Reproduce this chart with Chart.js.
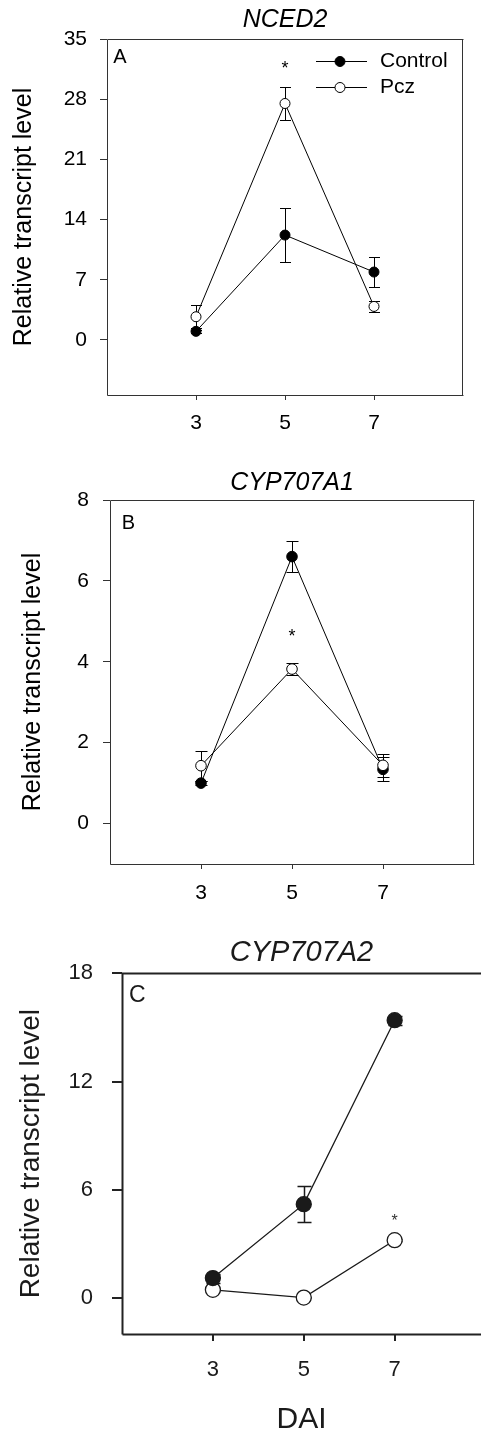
<!DOCTYPE html>
<html>
<head>
<meta charset="utf-8">
<script src="https://cdn.jsdelivr.net/npm/chart.js@4/dist/chart.umd.min.js"></script>
<style>
  html, body { margin: 0; padding: 0; background: #fff; }
  body { width: 481px; height: 1438px; overflow: hidden; position: relative; }
  canvas { position: absolute; left: 0; }
</style>
</head>
<body>
<canvas id="cA" width="481" height="460" style="top:0px"></canvas>
<canvas id="cB" width="481" height="460" style="top:460px"></canvas>
<canvas id="cC" width="481" height="518" style="top:920px"></canvas>
<script>
// ---------- data ----------
const days = [3, 5, 7];
const xTickValues = [3, 5, 7];
const seriesNames = ['Control', 'Pcz'];
const yAxisTitle = 'Relative transcript level';
const xAxisTitle = 'DAI';

// Panel A : NCED2
const titleA = 'NCED2';
const letterA = 'A';
const controlA = [1.0, 12.2, 7.9];
const controlErrA = [0.2, 3.1, 1.7];
const pczA = [2.7, 27.5, 3.9];
const pczErrA = [1.35, 1.9, 0.65];
const yTicksA = [0, 7, 14, 21, 28, 35];
const sigA = [5, 32.1];

// Panel B : CYP707A1
const titleB = 'CYP707A1';
const letterB = 'B';
const controlB = [1.0, 6.6, 1.34];
const controlErrB = [0.05, 0.38, 0.3];
const pczB = [1.43, 3.82, 1.44];
const pczErrB = [0.37, 0.15, 0.28];
const yTicksB = [0, 2, 4, 6, 8];
const sigB = [5, 4.74];

// Panel C : CYP707A2
const titleC = 'CYP707A2';
const letterC = 'C';
const controlC = [1.1, 5.2, 15.4];
const controlErrC = [0.25, 1.0, 0.25];
const pczC = [0.45, 0.02, 3.2];
const pczErrC = [0.05, 0.05, 0.05];
const yTicksC = [0, 6, 12, 18];
const sigC = [7, 4.5];

// ---------- rendering ----------
const FONT = "'Liberation Sans', Arial, Helvetica, sans-serif";
Chart.defaults.font.family = FONT;
Chart.defaults.color = '#000';

const panelPlugin = {
  id: 'panelPlugin',
  beforeDatasetsDraw(chart, args, o) {
    const ctx = chart.ctx;
    const ca = chart.chartArea;
    const {x, y} = chart.scales;
    ctx.save();
    // frame
    ctx.strokeStyle = o.frameColor;
    ctx.lineWidth = o.frameWidth;
    const L = Math.round(ca.left) + 0.5, R = Math.round(ca.right) - 0.5;
    const T = Math.round(ca.top) + 0.5, B = Math.round(ca.bottom) + 0.5;
    ctx.beginPath();
    ctx.moveTo(L, B); ctx.lineTo(L, T); ctx.lineTo(R + 1, T);
    if (o.rightBorder) { ctx.moveTo(R, T); ctx.lineTo(R, B); }
    ctx.moveTo(L, B); ctx.lineTo(R + 1, B);
    ctx.stroke();
    // error bars
    ctx.strokeStyle = o.lineColor;
    ctx.lineWidth = o.errWidth;
    chart.data.datasets.forEach(ds => {
      ds.data.forEach((p, i) => {
        const e = ds.errors[i];
        const px = Math.round(x.getPixelForValue(p.x)) + 0.5;
        const t = Math.round(y.getPixelForValue(p.y + e)) + 0.5;
        const b = Math.round(y.getPixelForValue(p.y - e)) + 0.5;
        ctx.beginPath();
        ctx.moveTo(px, t); ctx.lineTo(px, b);
        ctx.moveTo(px - o.cap, t); ctx.lineTo(px + o.cap, t);
        ctx.moveTo(px - o.cap, b); ctx.lineTo(px + o.cap, b);
        ctx.stroke();
      });
    });
    ctx.restore();
  },
  afterDatasetsDraw(chart, args, o) {
    const ctx = chart.ctx;
    const ca = chart.chartArea;
    const {x, y} = chart.scales;
    ctx.save();
    // panel letter
    ctx.fillStyle = o.textColor;
    ctx.font = o.letterSize + 'px ' + FONT;
    ctx.textAlign = 'left';
    ctx.textBaseline = 'alphabetic';
    ctx.fillText(o.letter, ca.left + o.letterDx, ca.top + o.letterDy);
    // significance star
    ctx.font = o.starSize + 'px ' + FONT;
    ctx.textAlign = 'center';
    ctx.fillStyle = o.starColor;
    ctx.fillText('*', x.getPixelForValue(o.sig[0]), y.getPixelForValue(o.sig[1]) + 0.57 * o.starSize);
    // legend
    if (o.legend) {
      chart.data.datasets.forEach((ds, i) => {
        const ly = Math.round(ca.top + o.legendY[i]) + 0.5;
        const x1 = ca.right - 147, x2 = ca.right - 96, xm = ca.right - 123;
        ctx.strokeStyle = ds.borderColor;
        ctx.lineWidth = ds.borderWidth;
        ctx.beginPath(); ctx.moveTo(x1, ly); ctx.lineTo(x2, ly); ctx.stroke();
        ctx.beginPath(); ctx.arc(xm, ly, ds.pointRadius, 0, Math.PI * 2);
        ctx.fillStyle = ds.pointBackgroundColor; ctx.fill();
        ctx.strokeStyle = ds.pointBorderColor; ctx.lineWidth = ds.pointBorderWidth; ctx.stroke();
        ctx.fillStyle = o.textColor;
        ctx.font = o.legendSize + 'px ' + FONT;
        ctx.textAlign = 'left';
        ctx.textBaseline = 'middle';
        ctx.fillText(ds.label, ca.right - 83, ly);
      });
    }
    ctx.restore();
  }
};

function toPoints(vals) { return days.map((d, i) => ({x: d, y: vals[i]})); }

function makePanel(id, c) {
  const mkDs = (label, vals, errs, fill, order) => ({
    label, data: toPoints(vals), errors: errs, order,
    borderColor: c.lineColor, borderWidth: c.lineWidth, tension: 0, fill: false,
    pointRadius: c.radius, pointHoverRadius: c.radius,
    pointBackgroundColor: fill, pointBorderColor: c.lineColor, pointBorderWidth: c.pointBorder
  });
  new Chart(document.getElementById(id), {
    type: 'line',
    data: {
      datasets: [
        mkDs(seriesNames[0], c.control, c.controlErr, c.lineColor, c.controlOnTop ? 0 : 1),
        mkDs(seriesNames[1], c.pcz, c.pczErr, '#ffffff', c.controlOnTop ? 1 : 0)
      ]
    },
    options: {
      responsive: false, animation: false, devicePixelRatio: 1,
      layout: {autoPadding: false, padding: {left: 0, right: c.padRight, top: 0, bottom: 0}},
      events: [],
      plugins: {
        legend: {display: false},
        tooltip: {enabled: false},
        title: {
          display: true, text: c.title, fullSize: false, color: c.textColor,
          font: {size: c.titleSize, style: 'italic', weight: 'normal', lineHeight: 1.2},
          padding: {top: c.titlePadTop, bottom: c.titlePadBottom}
        },
        panelPlugin: {
          letter: c.letter, letterDx: c.letterDx, letterDy: c.letterDy, letterSize: c.letterSize,
          sig: c.sig, starSize: c.starSize, starColor: c.starColor,
          legend: c.legend, legendY: [22, 47.7], legendSize: 21,
          frameColor: c.frameColor, frameWidth: c.frameWidth, rightBorder: c.rightBorder,
          lineColor: c.lineColor, errWidth: c.errWidth, cap: c.cap, textColor: c.textColor
        }
      },
      scales: {
        x: {
          type: 'linear', min: c.xMin, max: c.xMax,
          afterBuildTicks: s => { s.ticks = xTickValues.map(v => ({value: v})); },
          afterFit: s => { s.height = c.xAxisHeight; },
          border: {display: false},
          grid: {display: true, drawOnChartArea: false, drawTicks: true, tickLength: c.xTickLen, color: c.frameColor, lineWidth: c.frameWidth},
          ticks: {font: {size: c.tickSize}, color: c.textColor, padding: c.xTickPad, maxRotation: 0, autoSkip: false},
          title: {display: !!c.xTitle, text: c.xTitle || '', color: c.textColor, font: {size: c.xTitleSize}, padding: {top: 0, bottom: 0}}
        },
        y: {
          type: 'linear', min: c.yMin, max: c.yMax,
          afterBuildTicks: s => { s.ticks = c.yTicks.map(v => ({value: v})); },
          afterFit: s => { s.width = c.yAxisWidth; },
          border: {display: false},
          grid: {display: true, drawOnChartArea: false, drawTicks: true, tickLength: c.yTickLen, color: c.frameColor, lineWidth: c.frameWidth},
          ticks: {font: {size: c.tickSize}, color: c.textColor, padding: c.yTickPad, autoSkip: false},
          title: {display: true, text: yAxisTitle, color: c.textColor, font: {size: c.yTitleSize}, padding: {top: c.yTitlePad, bottom: 0}}
        }
      }
    },
    plugins: [panelPlugin]
  });
}

makePanel('cA', {
  title: titleA, letter: letterA, control: controlA, controlErr: controlErrA, pcz: pczA, pczErr: pczErrA,
  yTicks: yTicksA, yMin: -6.4, yMax: 35, xMin: 1, xMax: 9, sig: sigA, legend: true, controlOnTop: false,
  padRight: 18, yAxisWidth: 107, xAxisHeight: 65,
  titleSize: 25, titlePadTop: 5, titlePadBottom: 4,
  yTitleSize: 25, yTitlePad: 9, tickSize: 21, yTickLen: 7, yTickPad: 13, xTickLen: 5, xTickPad: 11,
  letterDx: 6.3, letterDy: 23.7, letterSize: 20, starSize: 18, starColor: '#000',
  lineColor: '#000', lineWidth: 1, radius: 5, pointBorder: 1, errWidth: 1, cap: 5.5,
  frameColor: '#333', frameWidth: 1, rightBorder: true, textColor: '#000'
});

makePanel('cB', {
  title: titleB, letter: letterB, control: controlB, controlErr: controlErrB, pcz: pczB, pczErr: pczErrB,
  yTicks: yTicksB, yMin: -1, yMax: 8, xMin: 1, xMax: 9, sig: sigB, legend: false, controlOnTop: false,
  padRight: 7, yAxisWidth: 110, xAxisHeight: 56,
  titleSize: 25, titlePadTop: 8, titlePadBottom: 2,
  yTitleSize: 25, yTitlePad: 18, tickSize: 21, yTickLen: 7, yTickPad: 14, xTickLen: 5, xTickPad: 12,
  letterDx: 11.7, letterDy: 29.3, letterSize: 20, starSize: 18, starColor: '#000',
  lineColor: '#000', lineWidth: 1, radius: 5.3, pointBorder: 1, errWidth: 1, cap: 6,
  frameColor: '#333', frameWidth: 1, rightBorder: true, textColor: '#000'
});

makePanel('cC', {
  title: titleC, letter: letterC, control: controlC, controlErr: controlErrC, pcz: pczC, pczErr: pczErrC,
  yTicks: yTicksC, yMin: -2, yMax: 18, xMin: 1, xMax: 8.9, sig: sigC, legend: false, controlOnTop: true,
  padRight: 0, yAxisWidth: 122, xAxisHeight: 104, xTitle: xAxisTitle, xTitleSize: 30,
  titleSize: 29, titlePadTop: 15.6, titlePadBottom: 2.9,
  yTitleSize: 28, yTitlePad: 14, tickSize: 22, yTickLen: 10, yTickPad: 19, xTickLen: 7, xTickPad: 16,
  letterDx: 7, letterDy: 28.4, letterSize: 23, starSize: 16, starColor: '#333',
  lineColor: '#1a1a1a', lineWidth: 1.3, radius: 7.5, pointBorder: 1.3, errWidth: 1.5, cap: 7,
  frameColor: '#222', frameWidth: 2, rightBorder: false, textColor: '#1a1a1a'
});
</script>
</body>
</html>
